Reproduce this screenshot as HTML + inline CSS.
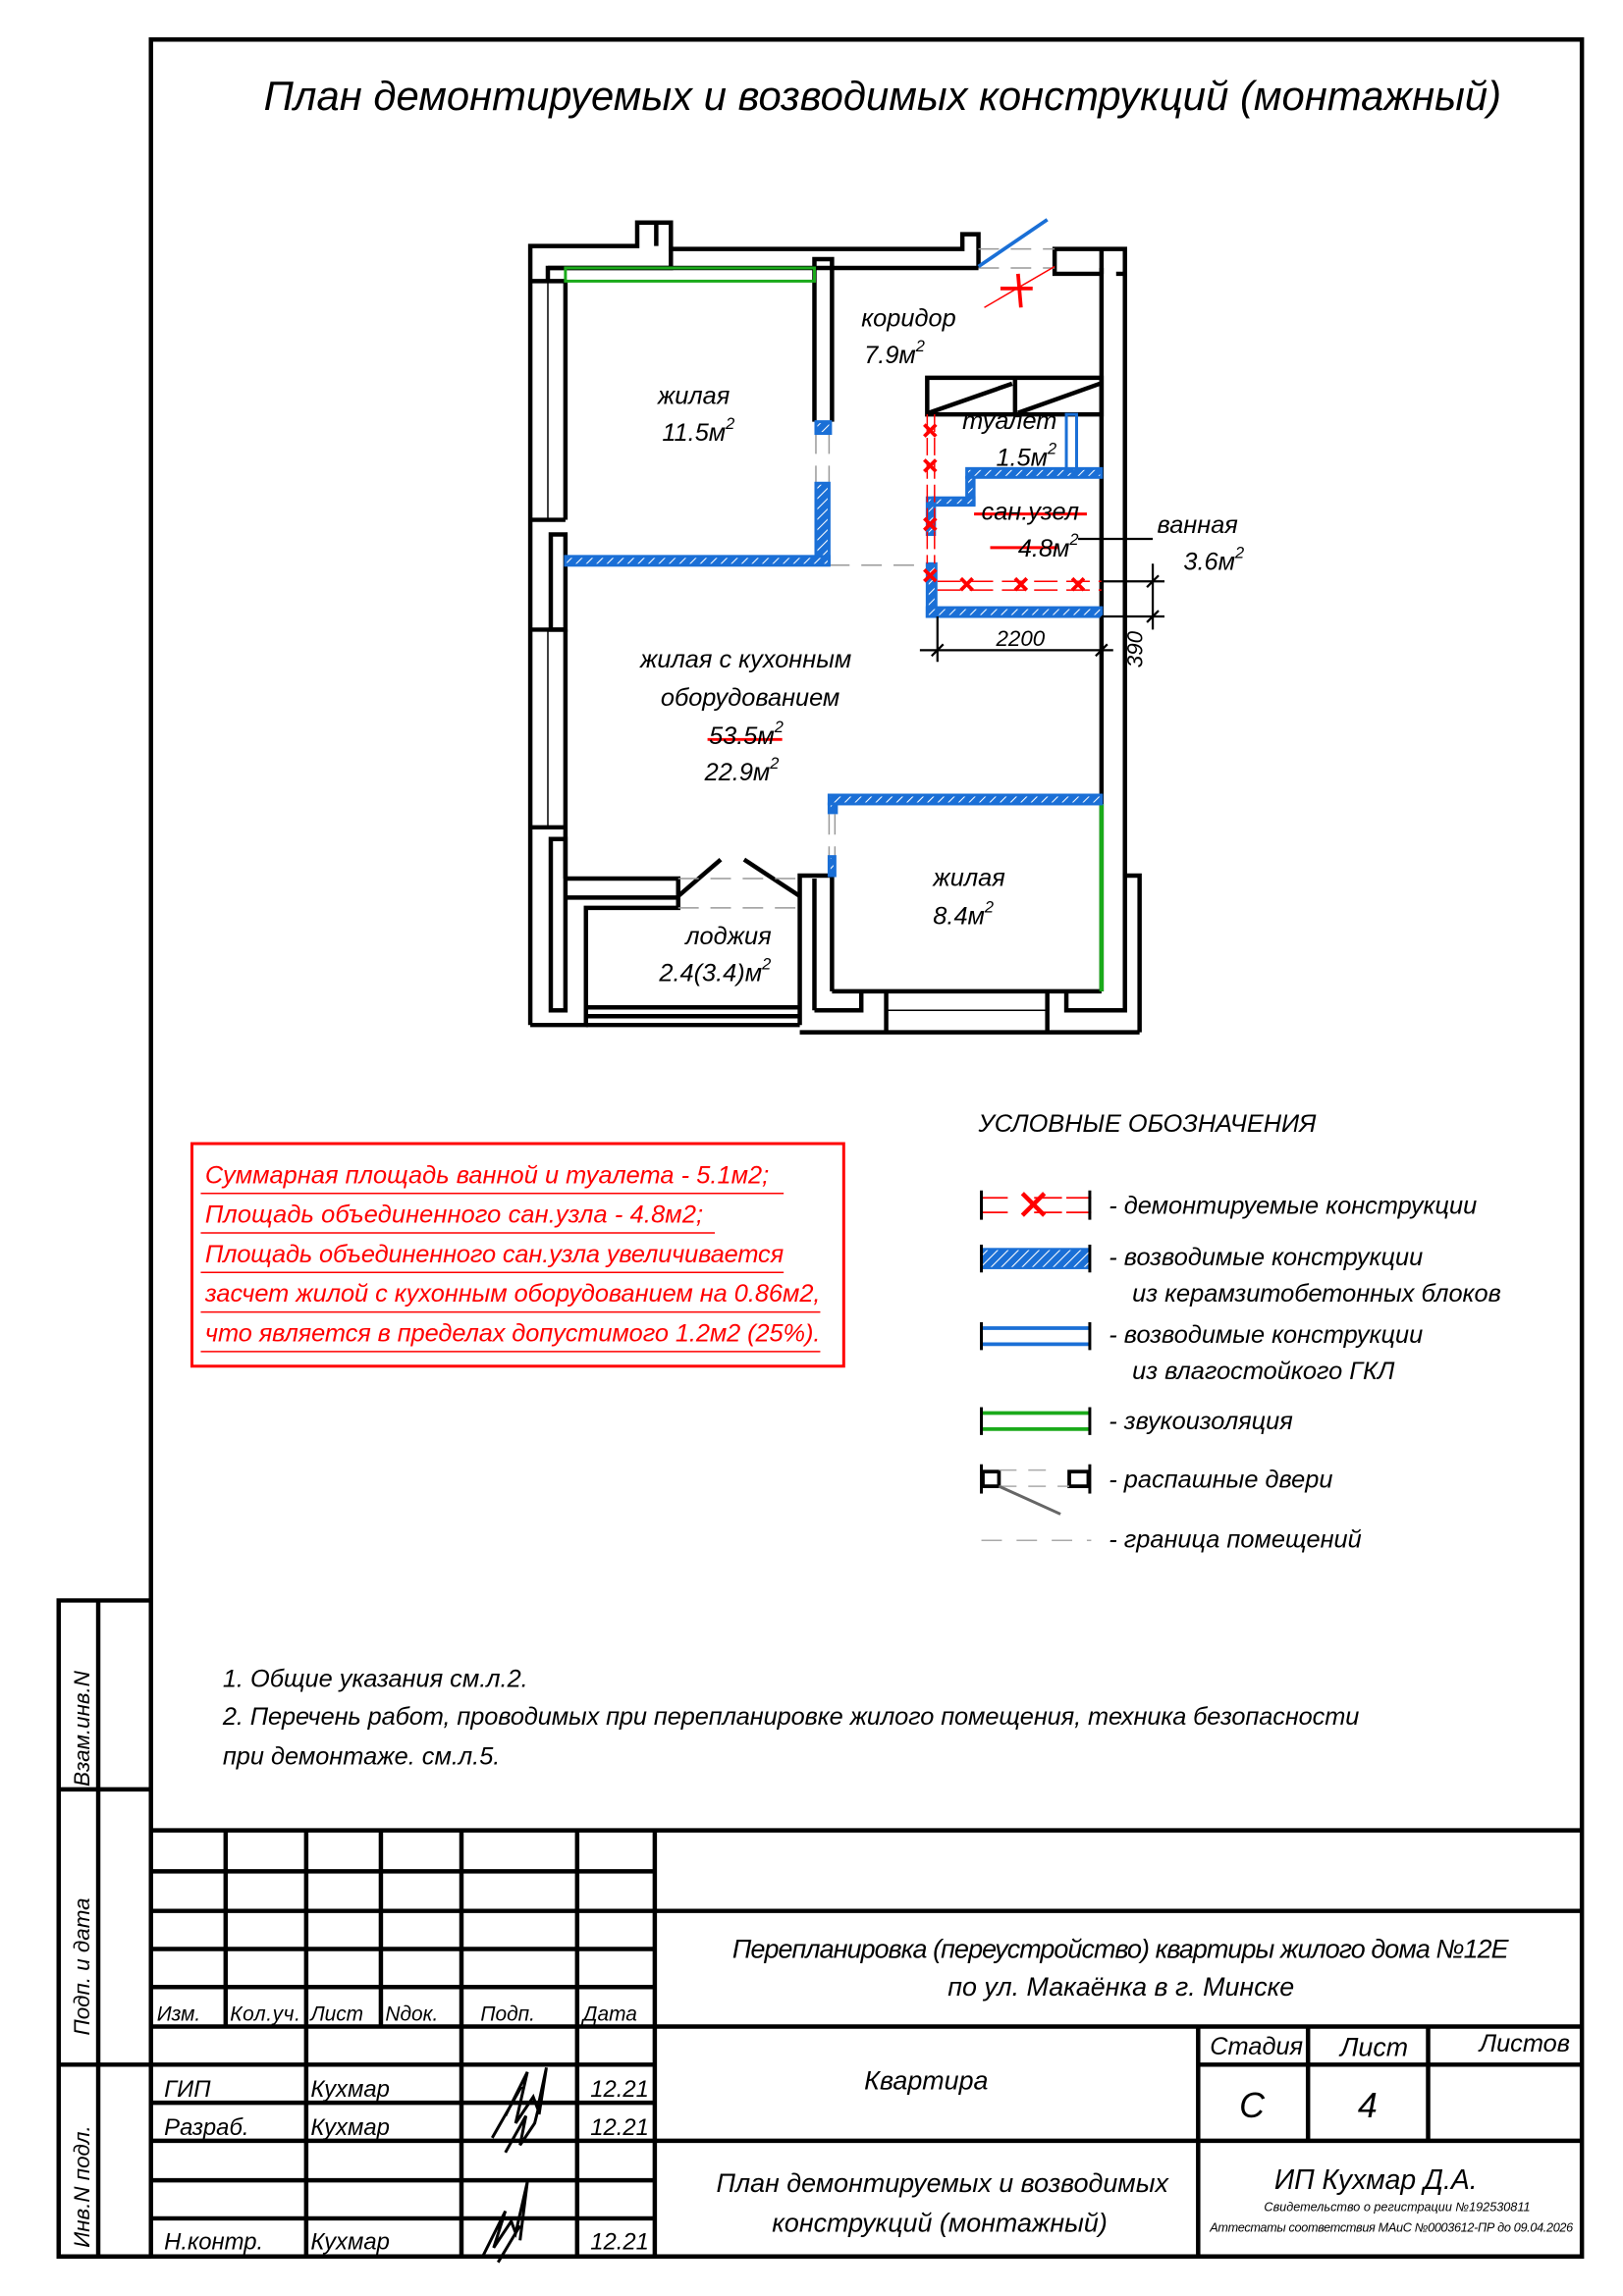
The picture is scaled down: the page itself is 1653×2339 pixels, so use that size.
<!DOCTYPE html>
<html><head><meta charset="utf-8"><style>
html,body{margin:0;padding:0;background:#fff}
svg{display:block}
text{font-family:"Liberation Sans Narrow","Liberation Sans","DejaVu Sans",sans-serif;font-style:italic;fill:#000}
</style></head><body>
<svg width="1653" height="2339" viewBox="0 0 1108 1568" xmlns="http://www.w3.org/2000/svg">
<defs>
<pattern id="h" width="5" height="5" patternUnits="userSpaceOnUse" patternTransform="rotate(45)">
<rect width="5" height="5" fill="#1a6fd6"/><line x1="0" y1="0" x2="0" y2="5" stroke="#fff" stroke-width="1.4"/>
</pattern>
</defs>
<rect width="1108" height="1568" fill="#fff"/>
<rect x="103" y="27" width="977" height="1514" fill="none" stroke="#000" stroke-width="3"/>
<g stroke="#000" stroke-width="3" fill="none">
<polyline points="103,1093 40,1093 40,1541 103,1541"/>
<line x1="67" y1="1093" x2="67" y2="1541"/>
<line x1="40" y1="1222" x2="103" y2="1222"/>
<line x1="40" y1="1410" x2="103" y2="1410"/>
</g>
<text transform="translate(61,1220) rotate(-90)" font-size="15">Взам.инв.N</text>
<text transform="translate(61,1390) rotate(-90)" font-size="15">Подп. и дата</text>
<text transform="translate(61,1535) rotate(-90)" font-size="15">Инв.N подл.</text>

<text x="180" y="75" font-size="28" textLength="845">План  демонтируемых  и  возводимых  конструкций  (монтажный)</text>

<g stroke="#000" stroke-width="3" fill="none">
<polyline points="362,700 362,168 435,168 435,152 458,152 458,170 657,170 657,160 668,160 668,183"/>
<line x1="448" y1="152" x2="448" y2="168"/>
<polyline points="374,192 374,183 458,183 458,168"/>
<line x1="386" y1="192" x2="386" y2="355"/>
<line x1="362" y1="192" x2="386" y2="192"/>
<line x1="374" y1="183" x2="668" y2="183"/>
<line x1="374" y1="192" x2="374" y2="355" stroke-width="1"/>
<line x1="362" y1="355" x2="386" y2="355"/>
<rect x="376" y="365" width="10" height="65"/>
<line x1="362" y1="430" x2="386" y2="430"/>
<line x1="386" y1="430" x2="386" y2="600"/>
<line x1="374" y1="430" x2="374" y2="565" stroke-width="1"/>
<line x1="362" y1="565" x2="386" y2="565"/>
<rect x="376" y="573" width="10" height="117"/>
<polyline points="362,700 400,700 400,620 463,620 463,600 386,600"/>
<line x1="386" y1="613" x2="463" y2="613"/>
<line x1="400" y1="688" x2="546" y2="688"/>
<line x1="400" y1="694" x2="546" y2="694"/>
<line x1="400" y1="700" x2="546" y2="700"/>
<polyline points="546,700 546,598 568,598"/>
<polyline points="556,690 556,600"/>
<line x1="568" y1="598" x2="568" y2="677"/>
<line x1="568" y1="677" x2="752" y2="677"/>
<polyline points="556,690 588,690 588,677"/>
<line x1="546" y1="705" x2="778" y2="705"/>
<line x1="605" y1="677" x2="605" y2="705"/>
<line x1="715" y1="677" x2="715" y2="705"/>
<line x1="605" y1="690" x2="715" y2="690" stroke-width="1"/>
<polyline points="728,677 728,690 768,690 768,598 778,598 778,705"/>
<line x1="752" y1="183" x2="752" y2="677"/>
<line x1="768" y1="187" x2="768" y2="598"/>
<polyline points="752,187 720,187 720,170 768,170 768,187 762,187"/>
<line x1="752" y1="170" x2="752" y2="187"/>
<polyline points="556,288 556,177 568,177 568,288"/>
<rect x="633" y="258" width="119" height="25"/>
<line x1="693" y1="258" x2="693" y2="283"/>
<line x1="634" y1="282" x2="691" y2="262"/>
<line x1="695" y1="282" x2="751" y2="262"/>
<line x1="463" y1="612" x2="492" y2="587"/>
<line x1="508" y1="587" x2="546" y2="612"/>
</g>
<g stroke="#999" stroke-width="1" stroke-dasharray="14,8" fill="none">
<line x1="668" y1="170" x2="720" y2="170"/><line x1="668" y1="183" x2="720" y2="183"/>
<line x1="566" y1="386" x2="633" y2="386"/>
<line x1="557" y1="296" x2="557" y2="330"/><line x1="566" y1="296" x2="566" y2="330"/>
<line x1="463" y1="600" x2="546" y2="600"/><line x1="463" y1="620" x2="546" y2="620"/>
<line x1="566" y1="556" x2="566" y2="585"/><line x1="570" y1="556" x2="570" y2="585"/>
</g>
<line x1="668" y1="182" x2="715" y2="150" stroke="#1a6fd6" stroke-width="2.5"/>
<line x1="672" y1="210" x2="720" y2="182" stroke="#f00" stroke-width="1"/>
<line x1="683" y1="197" x2="705" y2="197" stroke="#f00" stroke-width="2.5"/>
<line x1="695" y1="187" x2="697" y2="210" stroke="#f00" stroke-width="2.5"/>
<rect x="386" y="183" width="170" height="9" fill="none" stroke="#1aaa1a" stroke-width="2"/>
<line x1="752" y1="549" x2="752" y2="677" stroke="#1aaa1a" stroke-width="3"/>
<g fill="url(#h)" stroke="#1a6fd6" stroke-width="2">
<rect x="557" y="288" width="10" height="8"/>
<rect x="557" y="330" width="9" height="55"/>
<rect x="386" y="380" width="180" height="6"/>
<rect x="660" y="320" width="92" height="6"/>
<rect x="660" y="326" width="5" height="18"/>
<rect x="637" y="340" width="28" height="5"/>
<rect x="633" y="340" width="5" height="25"/>
<rect x="633" y="385" width="6" height="36"/>
<rect x="633" y="415" width="119" height="6"/>
<rect x="566" y="543" width="186" height="6"/>
<rect x="566" y="549" width="5" height="6"/>
<rect x="566" y="585" width="4" height="13"/>
</g>
<rect x="728" y="283" width="7" height="39" fill="none" stroke="#1a6fd6" stroke-width="2"/>
<g stroke="#f00" stroke-width="1" fill="none">
<line x1="633" y1="283" x2="633" y2="385" stroke-dasharray="12,4"/>
<line x1="638" y1="283" x2="638" y2="385" stroke-dasharray="12,4"/>
<line x1="640" y1="397" x2="752" y2="397" stroke-dasharray="16,6"/>
<line x1="640" y1="403" x2="752" y2="403" stroke-dasharray="16,6"/>
</g>
<g stroke="#f00" stroke-width="2.5">
<path d="M631,290l8,8M639,290l-8,8M631,314l8,8M639,314l-8,8M631,354l8,8M639,354l-8,8M631,389l8,8M639,389l-8,8M656,395l8,8M664,395l-8,8M693,395l8,8M701,395l-8,8M732,395l8,8M740,395l-8,8"/>
<line x1="665" y1="351" x2="742" y2="351" stroke-width="2"/>
<line x1="676" y1="374" x2="722" y2="374" stroke-width="2"/>
<line x1="483" y1="505" x2="534" y2="505" stroke-width="2"/>
</g>
<g stroke="#000" stroke-width="1.5">
<line x1="640" y1="421" x2="640" y2="452"/>
<line x1="752" y1="421" x2="752" y2="452"/>
<line x1="628" y1="444" x2="760" y2="444"/>
<line x1="636" y1="448" x2="644" y2="440"/><line x1="748" y1="448" x2="756" y2="440"/>
<line x1="752" y1="397" x2="795" y2="397"/>
<line x1="752" y1="421" x2="795" y2="421"/>
<line x1="787" y1="385" x2="787" y2="430"/>
<line x1="783" y1="401" x2="791" y2="393"/><line x1="783" y1="425" x2="791" y2="417"/>
<line x1="736" y1="368" x2="787" y2="368"/>
</g>
<g font-size="17">
<text x="588" y="223">коридор</text>
<text x="590" y="248">7.9м<tspan font-size="11" dy="-8">2</tspan></text>
<text x="449" y="276">жилая</text>
<text x="452" y="301">11.5м<tspan font-size="11" dy="-8">2</tspan></text>
<text x="657" y="293">туалет</text>
<text x="680" y="318">1.5м<tspan font-size="11" dy="-8">2</tspan></text>
<text x="670" y="355">сан.узел</text>
<text x="695" y="380">4.8м<tspan font-size="11" dy="-8">2</tspan></text>
<text x="790" y="364">ванная</text>
<text x="808" y="389">3.6м<tspan font-size="11" dy="-8">2</tspan></text>
<text x="680" y="441" font-size="15">2200</text>
<text transform="translate(780,456) rotate(-90)" font-size="15">390</text>
<text x="437" y="456">жилая  с  кухонным</text>
<text x="451" y="482">оборудованием</text>
<text x="484" y="508">53.5м<tspan font-size="11" dy="-8">2</tspan></text>
<text x="481" y="533">22.9м<tspan font-size="11" dy="-8">2</tspan></text>
<text x="637" y="605">жилая</text>
<text x="637" y="631">8.4м<tspan font-size="11" dy="-8">2</tspan></text>
<text x="468" y="645">лоджия</text>
<text x="450" y="670">2.4(3.4)м<tspan font-size="11" dy="-8">2</tspan></text>
</g>
<text x="668" y="773" font-size="17">УСЛОВНЫЕ  ОБОЗНАЧЕНИЯ</text>
<g stroke="#f00" stroke-width="1.2">
<line x1="669" y1="818" x2="688" y2="818"/><line x1="669" y1="828" x2="688" y2="828"/>
<line x1="706" y1="818" x2="725" y2="818"/><line x1="706" y1="828" x2="725" y2="828"/>
<line x1="728" y1="818" x2="745" y2="818"/><line x1="728" y1="828" x2="745" y2="828"/>
<path d="M698,815l15,15M713,815l-15,15" stroke-width="3"/>
</g>
<rect x="670" y="853" width="74" height="13" fill="url(#h)" stroke="#1a6fd6" stroke-width="1.5"/>
<line x1="670" y1="907" x2="744" y2="907" stroke="#1a6fd6" stroke-width="2.5"/>
<line x1="670" y1="918" x2="744" y2="918" stroke="#1a6fd6" stroke-width="2.5"/>
<line x1="670" y1="965" x2="744" y2="965" stroke="#1aaa1a" stroke-width="2.5"/>
<line x1="670" y1="976" x2="744" y2="976" stroke="#1aaa1a" stroke-width="2.5"/>
<g stroke="#000" stroke-width="2" fill="none">
<line x1="670" y1="813" x2="670" y2="833"/><line x1="744" y1="813" x2="744" y2="833"/>
<line x1="670" y1="850" x2="670" y2="869"/><line x1="744" y1="850" x2="744" y2="869"/>
<line x1="670" y1="903" x2="670" y2="922"/><line x1="744" y1="903" x2="744" y2="922"/>
<line x1="670" y1="961" x2="670" y2="980"/><line x1="744" y1="961" x2="744" y2="980"/>
<line x1="670" y1="1000" x2="670" y2="1020"/><line x1="744" y1="1000" x2="744" y2="1020"/>
<rect x="671" y="1005" width="11" height="10" stroke-width="2.5"/>
<rect x="730" y="1005" width="13" height="10" stroke-width="2.5"/>
</g>
<line x1="682" y1="1004" x2="720" y2="1004" stroke="#aaa" stroke-width="1" stroke-dasharray="12,8"/>
<line x1="682" y1="1015" x2="730" y2="1015" stroke="#aaa" stroke-width="1" stroke-dasharray="12,8"/>
<line x1="682" y1="1015" x2="724" y2="1034" stroke="#666" stroke-width="2"/>
<line x1="670" y1="1052" x2="745" y2="1052" stroke="#aaa" stroke-width="1" stroke-dasharray="14,10"/>
<g font-size="17">
<text x="757" y="829">-  демонтируемые  конструкции</text>
<text x="757" y="864">-  возводимые  конструкции</text>
<text x="773" y="889">из  керамзитобетонных  блоков</text>
<text x="757" y="917">-  возводимые  конструкции</text>
<text x="773" y="942">из  влагостойкого  ГКЛ</text>
<text x="757" y="976">-  звукоизоляция</text>
<text x="757" y="1016">-  распашные  двери</text>
<text x="757" y="1057">-  граница  помещений</text>
</g>
<rect x="131" y="781" width="445" height="152" fill="none" stroke="#f00" stroke-width="2"/>
<g font-size="17">
<text x="140" y="808" style="fill:#f00" textLength="385">Суммарная площадь ванной и туалета - 5.1м2;</text>
<text x="140" y="835" style="fill:#f00" textLength="340">Площадь объединенного сан.узла - 4.8м2;</text>
<text x="140" y="862" style="fill:#f00" textLength="395">Площадь объединенного сан.узла увеличивается</text>
<text x="140" y="889" style="fill:#f00" textLength="420">засчет жилой с кухонным оборудованием на 0.86м2,</text>
<text x="140" y="916" style="fill:#f00" textLength="420">что является в пределах допустимого 1.2м2 (25%).</text>
</g>
<g stroke="#f00" stroke-width="1">
<line x1="137" y1="815" x2="535" y2="815"/><line x1="137" y1="842" x2="488" y2="842"/>
<line x1="137" y1="869" x2="535" y2="869"/><line x1="137" y1="896" x2="560" y2="896"/>
<line x1="137" y1="923" x2="560" y2="923"/>
</g>
<g font-size="17">
<text x="152" y="1152">1.  Общие указания см.л.2.</text>
<text x="152" y="1178" textLength="776">2.  Перечень работ, проводимых при перепланировке жилого помещения, техника безопасности</text>
<text x="152" y="1205">при демонтаже. см.л.5.</text>
</g>
<g stroke="#000" stroke-width="3" fill="none">
<line x1="103" y1="1250" x2="1080" y2="1250"/>
<line x1="447" y1="1305" x2="1080" y2="1305"/>
<line x1="447" y1="1384" x2="1080" y2="1384"/>
<line x1="447" y1="1462" x2="1080" y2="1462"/>
<line x1="818" y1="1410" x2="1080" y2="1410"/>
<line x1="818" y1="1384" x2="818" y2="1541"/>
<line x1="893" y1="1384" x2="893" y2="1462"/>
<line x1="975" y1="1384" x2="975" y2="1462"/>
<line x1="447" y1="1250" x2="447" y2="1541"/>
<line x1="394" y1="1250" x2="394" y2="1541"/>
<line x1="315" y1="1250" x2="315" y2="1541"/>
<line x1="209" y1="1250" x2="209" y2="1541"/>
<line x1="154" y1="1250" x2="154" y2="1384"/>
<line x1="260" y1="1250" x2="260" y2="1384"/>
<line x1="103" y1="1278" x2="447" y2="1278"/>
<line x1="103" y1="1305" x2="447" y2="1305"/>
<line x1="103" y1="1331" x2="447" y2="1331"/>
<line x1="103" y1="1357" x2="447" y2="1357"/>
<line x1="103" y1="1384" x2="447" y2="1384"/>
<line x1="103" y1="1410" x2="447" y2="1410"/>
<line x1="103" y1="1436" x2="447" y2="1436"/>
<line x1="103" y1="1462" x2="447" y2="1462"/>
<line x1="103" y1="1489" x2="447" y2="1489"/>
<line x1="103" y1="1515" x2="447" y2="1515"/>
</g>
<g font-size="14">
<text x="107" y="1380">Изм.</text><text x="157" y="1380" textLength="48">Кол.уч.</text>
<text x="212" y="1380">Лист</text><text x="263" y="1380">Nдок.</text>
<text x="328" y="1380">Подп.</text><text x="398" y="1380">Дата</text>
</g>
<g font-size="16">
<text x="112" y="1432">ГИП</text><text x="212" y="1432">Кухмар</text><text x="403" y="1432">12.21</text>
<text x="112" y="1458">Разраб.</text><text x="212" y="1458">Кухмар</text><text x="403" y="1458">12.21</text>
<text x="112" y="1536">Н.контр.</text><text x="212" y="1536">Кухмар</text><text x="403" y="1536">12.21</text>
<text x="500" y="1337" font-size="18" textLength="530">Перепланировка  (переустройство)  квартиры  жилого  дома  №12Е</text>
<text x="647" y="1363" font-size="18">по ул. Макаёнка в г. Минске</text>
<text x="590" y="1427" font-size="18">Квартира</text>
<text x="826" y="1403" font-size="17">Стадия</text>
<text x="915" y="1404" font-size="18">Лист</text>
<text x="1010" y="1401" font-size="17">Листов</text>
<text x="846" y="1446" font-size="24">С</text>
<text x="927" y="1446" font-size="24">4</text>
<text x="489" y="1497" font-size="18">План демонтируемых и возводимых</text>
<text x="527" y="1524" font-size="18">конструкций (монтажный)</text>
<text x="870" y="1495" font-size="19">ИП Кухмар Д.А.</text>
<text x="863" y="1510" font-size="8.5">Свидетельство о регистрации №192530811</text>
<text x="826" y="1524" font-size="8.5" textLength="248">Аттестаты соответствия МАиС №0003612-ПР до 09.04.2026</text>
</g>
<g stroke="#000" stroke-width="2" fill="none">
<path d="M345,1445l15,-30l-8,35l12,-18l3,8l6,-28l-5,32M336,1460l20,-35M345,1470l14,-25l-4,20l10,-15l5,-20"/>
<path d="M330,1540l15,-30l-8,25l12,-18l3,8l8,-35l-5,40M340,1545l15,-25"/>
</g>
</svg>
</body></html>
